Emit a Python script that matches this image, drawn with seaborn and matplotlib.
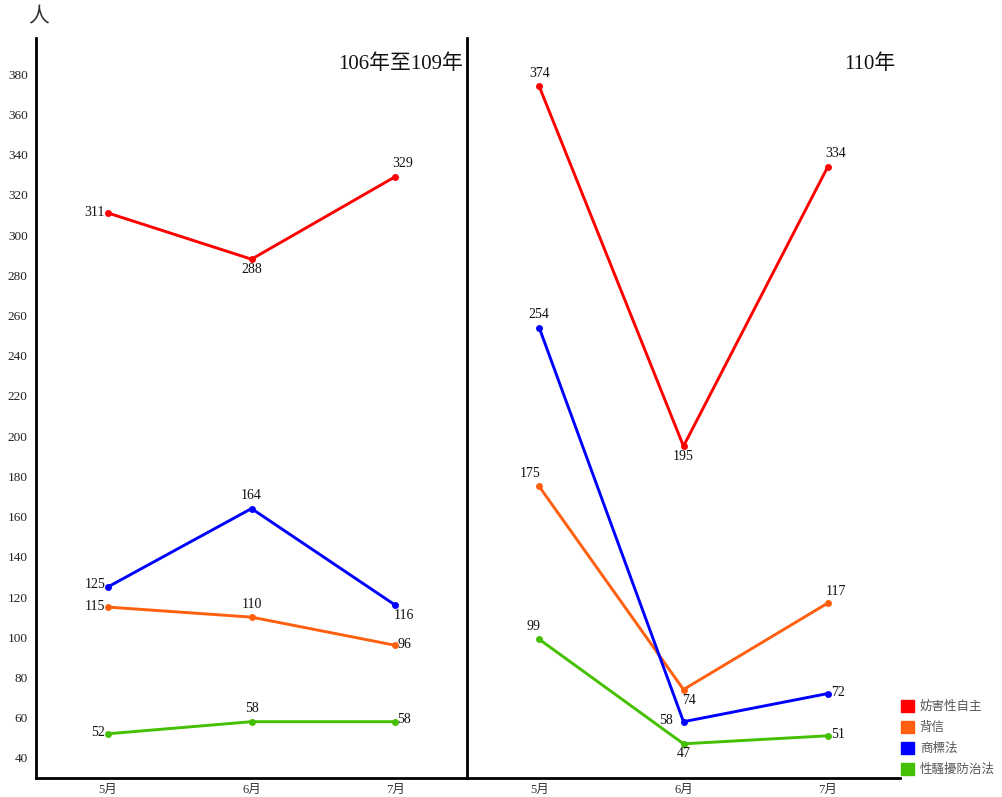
import pandas as pd
import matplotlib.pyplot as plt
import seaborn as sns
from matplotlib.patches import Patch

# 資料
months = ["5月", "6月", "7月"]
crimes = ["妨害性自主", "背信", "商標法", "性騷擾防治法"]
colors = ["#ff0000", "#ff5f0f", "#0000ff", "#44c000"]

left_sexual = [311, 288, 329]
left_breach = [115, 110, 96]
left_trademark = [125, 164, 116]
left_harass = [52, 58, 58]

right_sexual = [374, 195, 334]
right_breach = [175, 74, 117]
right_trademark = [254, 58, 72]
right_harass = [99, 47, 51]

panel_titles = ["106年至109年", "110年"]

sns.set_style("white")
plt.rcParams['font.family'] = ['Liberation Serif', 'Noto Sans CJK TC', 'DejaVu Sans']


def to_long(series_list):
    rows = []
    for name, vals in zip(crimes, series_list):
        for i, v in enumerate(vals):
            rows.append({"月份": i, "罪名": name, "人數": v})
    return pd.DataFrame(rows)


df_left = to_long([left_sexual, left_breach, left_trademark, left_harass])
df_right = to_long([right_sexual, right_breach, right_trademark, right_harass])

# 標籤位置 (像素偏移)
offs_left = {
    "妨害性自主": [(-13, 0), (0, -10), (8, 13)],
    "背信": [(-13, 1), (0, 13), (9, 1)],
    "商標法": [(-13, 2), (0, 13), (9, -10)],
    "性騷擾防治法": [(-10, 1), (0, 13), (9, 2)],
}
offs_right = {
    "妨害性自主": [(0, 13), (0, -10), (8, 13)],
    "背信": [(-9, 13), (6, -11), (8, 12)],
    "商標法": [(0, 13), (-17, 1), (10, 1)],
    "性騷擾防治法": [(-6, 13), (0, -10), (10, 1)],
}

fig = plt.figure(figsize=(10.02, 7.97), dpi=100)
ax1 = fig.add_axes([36 / 1002, 1 - 778 / 797, (467 - 36) / 1002, (778 - 38) / 797])
ax2 = fig.add_axes([467 / 1002, 1 - 778 / 797, (900 - 467) / 1002, (778 - 38) / 797], sharey=ax1)
ax2.patch.set_alpha(0)

for ax, df, offs, title in [(ax1, df_left, offs_left, panel_titles[0]),
                            (ax2, df_right, offs_right, panel_titles[1])]:
    sns.lineplot(data=df, x="月份", y="人數", hue="罪名", palette=colors,
                 marker="o", markersize=5, markeredgewidth=0, linewidth=2.1,
                 ax=ax, legend=False)
    for name in crimes:
        sub = df[df["罪名"] == name]
        for (x, y), (dx, dy) in zip(zip(sub["月份"], sub["人數"]), offs[name]):
            ax.annotate(str(y), (x, y), xytext=(dx, dy), textcoords="offset pixels",
                        ha="center", va="center", fontsize=10, color="#111111")
    ax.set_xlim(-0.5, 2.5)
    ax.set_ylim(30, 398)
    ax.set_xticks(range(3))
    ax.set_xticklabels(months, fontsize=9, color="#333333")
    ax.set_xlabel("")
    ax.set_ylabel("")
    ax.tick_params(axis="both", length=0, pad=4)
    for s in ["top", "right", "left", "bottom"]:
        ax.spines[s].set_visible(False)
    ax.spines["bottom"].set_visible(True)
    ax.spines["bottom"].set_color("black")
    ax.spines["bottom"].set_linewidth(2)
    ax.text(0.99, 0.978, title, transform=ax.transAxes, ha="right", va="top",
            fontsize=15, color="#111111")

ax1.set_yticks(range(40, 381, 20))
ax1.tick_params(axis="y", labelsize=9.5, labelcolor="#222222", pad=6)
for s in ["left", "right"]:
    ax1.spines[s].set_visible(True)
    ax1.spines[s].set_color("black")
    ax1.spines[s].set_linewidth(2)
ax2.tick_params(axis="y", labelleft=False)

fig.text(28 / 1002, 1 - 18 / 797, "人", fontsize=15, color="#333333", ha="left", va="center")

handles = [Patch(facecolor=c, edgecolor=c) for c in colors]
fig.legend(handles, crimes, loc="lower right", bbox_to_anchor=(1.004, 0.012),
           frameon=False, fontsize=9, labelcolor="#555555",
           handlelength=1.0, handleheight=1.15, handletextpad=0.5, labelspacing=0.6)

plt.savefig("out.png", dpi=100)
